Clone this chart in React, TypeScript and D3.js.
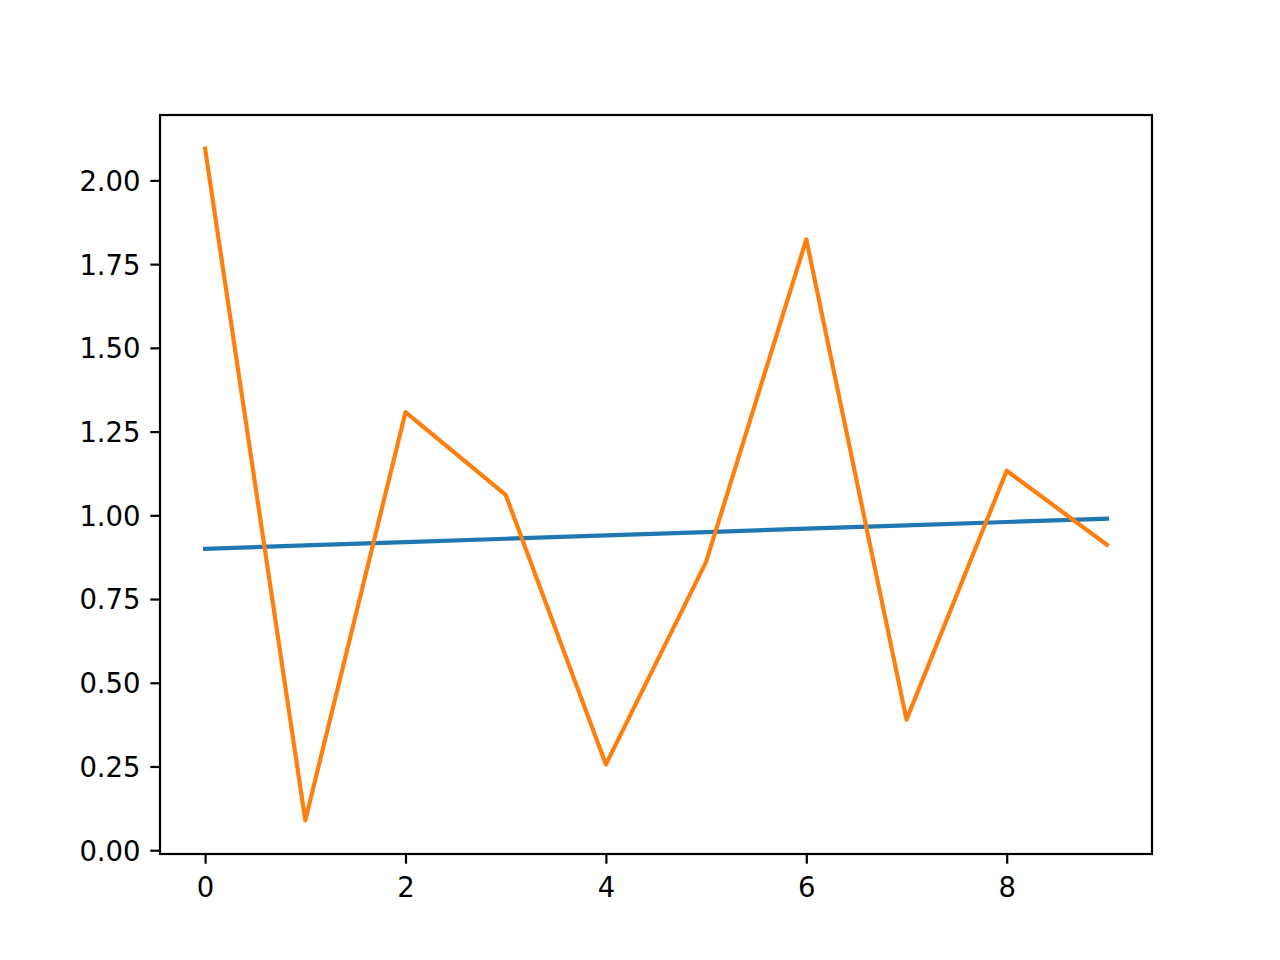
import { useRef, useEffect } from "react";
import * as d3 from "d3";

// series values
const xs = [0, 1, 2, 3, 4, 5, 6, 7, 8, 9];
const trend = [0.9, 0.91, 0.92, 0.93, 0.94, 0.95, 0.96, 0.97, 0.98, 0.99];
const noisy = [2.095, 0.089, 1.308, 1.061, 0.256, 0.861, 1.824, 0.39, 1.133, 0.912];
const xTicks = [0, 2, 4, 6, 8];
const yTicks = [0, 0.25, 0.5, 0.75, 1.0, 1.25, 1.5, 1.75, 2.0];

export default function App() {
  const svgRef = useRef<SVGSVGElement>(null);

  useEffect(() => {
    if (!svgRef.current) return;
    const svg = d3.select(svgRef.current);
    svg.selectAll("*").remove();

    const W = 1280, H = 960;
    const left = 160, right = 1152, top = 115, bottom = 854;
    const font = "'DejaVu Sans', sans-serif";
    const fs = 27.5;

    svg.attr("width", W).attr("height", H);
    svg.append("rect").attr("width", W).attr("height", H).attr("fill", "#fff");

    // matplotlib-style 5% margins
    const xr = d3.extent(xs) as [number, number];
    const allY = [...trend, ...noisy];
    const yr = d3.extent(allY) as [number, number];
    const xm = (xr[1] - xr[0]) * 0.05, ym = (yr[1] - yr[0]) * 0.05;

    const x = d3.scaleLinear().domain([xr[0] - xm, xr[1] + xm]).range([left, right]);
    const y = d3.scaleLinear().domain([yr[0] - ym, yr[1] + ym]).range([bottom, top]);

    const line = d3.line<number>().x((_, i) => x(xs[i])).y(d => y(d));

    svg.append("path").datum(trend).attr("d", line).attr("fill", "none")
      .attr("stroke", "#1f77b4").attr("stroke-width", 4.17).attr("stroke-linecap", "square");
    svg.append("path").datum(noisy).attr("d", line).attr("fill", "none")
      .attr("stroke", "#ff7f0e").attr("stroke-width", 4.17).attr("stroke-linecap", "square")
      .attr("stroke-linejoin", "round");

    // frame
    svg.append("rect").attr("x", left).attr("y", top).attr("width", right - left).attr("height", bottom - top)
      .attr("fill", "none").attr("stroke", "#000").attr("stroke-width", 2.2);

    // x axis
    const xa = svg.append("g").attr("transform", `translate(0,${bottom})`)
      .call(d3.axisBottom(x).tickValues(xTicks).tickSize(9.7).tickPadding(9.7).tickFormat(d3.format("d")));
    xa.select(".domain").remove();
    xa.selectAll("line").attr("stroke", "#000").attr("stroke-width", 2.2);
    xa.selectAll("text").attr("fill", "#000").attr("font-family", font).attr("font-size", fs)
      .attr("dy", "0.84em");

    // y axis
    const ya = svg.append("g").attr("transform", `translate(${left},0)`)
      .call(d3.axisLeft(y).tickValues(yTicks).tickSize(9.7).tickPadding(9.7).tickFormat(d3.format(".2f")));
    ya.select(".domain").remove();
    ya.selectAll("line").attr("stroke", "#000").attr("stroke-width", 2.2);
    ya.selectAll("text").attr("fill", "#000").attr("font-family", font).attr("font-size", fs)
      .attr("dy", "0.36em");
  }, []);

  return (
    <div style={{ position: "absolute", left: 0, top: 0 }}>
      <svg ref={svgRef} style={{ display: "block" }} />
    </div>
  );
}
